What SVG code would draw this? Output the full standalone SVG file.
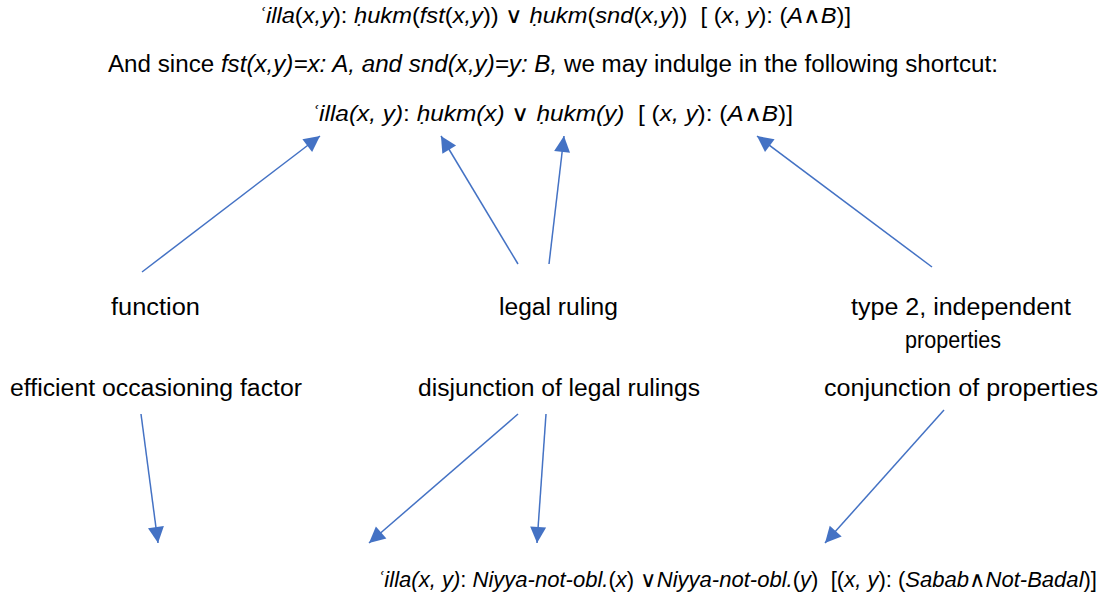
<svg xmlns="http://www.w3.org/2000/svg" width="1107" height="601" viewBox="0 0 1107 601">
<style>
text{font-family:"Liberation Sans",Arial,sans-serif;font-size:23px;fill:#000;white-space:pre}
.i{font-style:italic}
.s{font-size:21.5px}
.c{stroke:#4472C4;stroke-width:1.5;fill:none}
</style>
<defs>
<marker id="ah" viewBox="0 0 10 10" refX="10" refY="5" markerWidth="10" markerHeight="10" markerUnits="userSpaceOnUse" orient="auto" overflow="visible">
<path d="M0,0 L10,5 L0,10 Z" fill="#4472C4" transform="scale(1.6) translate(-3.75,-1.9)"/>
</marker>
</defs>
<rect width="1107" height="601" fill="#fff"/>
<g id="line1"><text class="s" x="258" y="23" textLength="593" lengthAdjust="spacingAndGlyphs"><tspan class="i">ʿilla</tspan>(<tspan class="i">x,y</tspan>): <tspan class="i">ḥukm</tspan>(<tspan class="i">fst</tspan>(<tspan class="i">x,y</tspan>)) ∨ <tspan class="i">ḥukm</tspan>(<tspan class="i">snd</tspan>(<tspan class="i">x,y</tspan>))  [ (<tspan class="i">x</tspan>, <tspan class="i">y</tspan>): (<tspan class="i">A</tspan>∧<tspan class="i">B</tspan>)]</text></g>
<g id="line2"><text x="108" y="72" textLength="890" lengthAdjust="spacingAndGlyphs">And since <tspan class="i">fst(x,y)=x: A, and snd(x,y)=y: B,</tspan> we may indulge in the following shortcut:</text></g>
<g id="line3"><text class="s" x="311" y="121" textLength="482" lengthAdjust="spacingAndGlyphs"><tspan class="i">ʿilla(x, y)</tspan>: <tspan class="i">ḥukm(x)</tspan> ∨ <tspan class="i">ḥukm(y)</tspan>  [ (<tspan class="i">x, y</tspan>): (<tspan class="i">A</tspan>∧<tspan class="i">B</tspan>)]</text></g>
<g id="function"><text x="111" y="315" textLength="89" lengthAdjust="spacingAndGlyphs">function</text></g>
<g id="legal-ruling"><text x="499" y="315" textLength="119" lengthAdjust="spacingAndGlyphs">legal ruling</text></g>
<g id="type2"><text x="851" y="315" textLength="220" lengthAdjust="spacingAndGlyphs">type 2, independent</text><text x="905" y="348" textLength="96" lengthAdjust="spacingAndGlyphs">properties</text></g>
<g id="efficient"><text x="10" y="396" textLength="292" lengthAdjust="spacingAndGlyphs">efficient occasioning factor</text></g>
<g id="disjunction"><text x="418" y="396" textLength="282" lengthAdjust="spacingAndGlyphs">disjunction of legal rulings</text></g>
<g id="conjunction"><text x="824" y="396" textLength="274" lengthAdjust="spacingAndGlyphs">conjunction of properties</text></g>
<g id="bottom"><text class="s" x="377" y="587" textLength="720" lengthAdjust="spacingAndGlyphs"><tspan class="i">ʿilla(x, y)</tspan>: <tspan class="i">Niyya-not-obl.</tspan>(<tspan class="i">x</tspan>) ∨<tspan class="i">Niyya-not-obl.</tspan>(<tspan class="i">y</tspan>)  [(<tspan class="i">x, y</tspan>): (<tspan class="i">Sabab</tspan>∧<tspan class="i">Not-Badal</tspan>)]</text></g>
<g id="connectors">
<line class="c" x1="142" y1="272" x2="320" y2="136" marker-end="url(#ah)"/>
<line class="c" x1="518" y1="264" x2="441" y2="136" marker-end="url(#ah)"/>
<line class="c" x1="549" y1="264" x2="564" y2="136" marker-end="url(#ah)"/>
<line class="c" x1="932" y1="267" x2="757" y2="136" marker-end="url(#ah)"/>
<line class="c" x1="141" y1="414" x2="158" y2="543" marker-end="url(#ah)"/>
<line class="c" x1="518" y1="414" x2="369" y2="543" marker-end="url(#ah)"/>
<line class="c" x1="546" y1="414" x2="537" y2="543" marker-end="url(#ah)"/>
<line class="c" x1="944" y1="410" x2="825" y2="543" marker-end="url(#ah)"/>
</g>
</svg>
